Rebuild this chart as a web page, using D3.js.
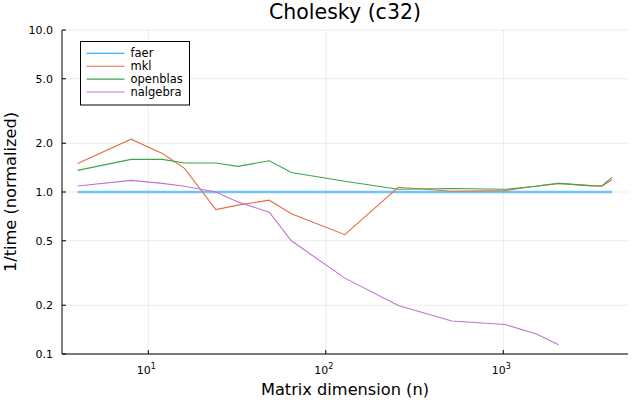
<!DOCTYPE html>
<html><head><meta charset="utf-8">
<script src="https://cdn.jsdelivr.net/npm/d3@7"></script>
<style>
body{margin:0;background:#fff;}
text{font-family:"DejaVu Sans",sans-serif;fill:#000;}
</style></head>
<body><svg id="c" width="640" height="400"></svg>
<script>
const sizes = [4, 8, 12, 16, 24, 32, 48, 64, 128, 256, 512, 1024, 1536, 2048, 2560, 3072, 3584, 4096];
const faer = [1, 1, 1, 1, 1, 1, 1, 1, 1, 1, 1, 1, 1, 1, 1, 1, 1, 1];
const mkl = [1.50, 2.12, 1.73, 1.40, 0.778, 0.83, 0.89, 0.735, 0.545, 1.07, 1.01, 1.02, 1.09, 1.13, 1.11, 1.095, 1.085, 1.19];
const openblas = [1.36, 1.59, 1.59, 1.51, 1.51, 1.44, 1.56, 1.32, 1.165, 1.04, 1.05, 1.04, 1.085, 1.13, 1.11, 1.095, 1.09, 1.23];
const nalgebra = [1.09, 1.18, 1.13, 1.085, 1.0, 0.867, 0.75, 0.50, 0.294, 0.199, 0.16, 0.152, 0.133, 0.114, null, null, null, null];
const seriesNames = ["faer", "mkl", "openblas", "nalgebra"];
const seriesColors = ["#009afa", "#e26f46", "#3da44d", "#c271d2"];
const yTicks = [0.1, 0.2, 0.5, 1.0, 2.0, 5.0, 10.0];
const xTicks = [10, 100, 1000];

const svg = d3.select("#c");
const L = 62, R = 628, T = 30, B = 354;
const x = d3.scaleLog().domain([3.265, 5040]).range([L, R]);
const y = d3.scaleLog().domain([0.1, 10]).range([B, T]);

// grid
svg.append("g").selectAll("line").data(yTicks).join("line")
  .attr("x1", L).attr("x2", R).attr("y1", d => y(d)).attr("y2", d => y(d))
  .attr("stroke", "#000").attr("stroke-opacity", 0.08).attr("stroke-width", 1);
svg.append("g").selectAll("line").data(xTicks).join("line")
  .attr("y1", T).attr("y2", B).attr("x1", d => x(d)).attr("x2", d => x(d))
  .attr("stroke", "#000").attr("stroke-opacity", 0.08).attr("stroke-width", 1);

// series
const all = [faer, mkl, openblas, nalgebra];
const line = d3.line().defined(d => d[1] != null).x(d => x(d[0])).y(d => y(d[1]));
all.forEach((vals, i) => {
  const pts = sizes.map((s, j) => [s, vals[j]]);
  svg.append("path").datum(pts).attr("d", line).attr("fill", "none")
    .attr("stroke", seriesColors[i])
    .attr("stroke-width", i === 0 ? 2.5 : 1.1)
    .attr("stroke-opacity", i === 0 ? 0.55 : 1);
});

// axes spines
svg.append("line").attr("x1", L).attr("x2", L).attr("y1", T).attr("y2", B).attr("stroke", "#000").attr("stroke-width", 1);
svg.append("line").attr("x1", L).attr("x2", R).attr("y1", B).attr("y2", B).attr("stroke", "#000").attr("stroke-width", 1);

// y ticks
const yt = svg.append("g");
yt.selectAll("line").data(yTicks).join("line")
  .attr("x1", L).attr("x2", L + 4).attr("y1", d => y(d)).attr("y2", d => y(d)).attr("stroke", "#000");
yt.selectAll("text").data(yTicks).join("text")
  .attr("x", L - 9).attr("y", d => y(d)).attr("dy", "0.35em").attr("text-anchor", "end")
  .attr("font-size", 11).text(d => d.toFixed(1));

// x ticks
const xt = svg.append("g");
xt.selectAll("line").data(xTicks).join("line")
  .attr("x1", d => x(d)).attr("x2", d => x(d)).attr("y1", B).attr("y2", B - 4).attr("stroke", "#000");
xt.selectAll("text").data(xTicks).join("text")
  .attr("x", d => x(d) - 2).attr("y", 374).attr("text-anchor", "middle").attr("font-size", 11)
  .each(function(d) {
    const t = d3.select(this);
    t.append("tspan").text("10");
    t.append("tspan").attr("dy", -5).attr("font-size", 8).text(Math.round(Math.log10(d)));
  });

// titles
svg.append("text").attr("x", (L + R) / 2).attr("y", 18.5).attr("text-anchor", "middle").attr("font-size", 20.5).text("Cholesky (c32)");
svg.append("text").attr("x", (L + R) / 2).attr("y", 395).attr("text-anchor", "middle").attr("font-size", 16.2).text("Matrix dimension (n)");
svg.append("text").attr("transform", `translate(15.5,${(T + B) / 2}) rotate(-90)`).attr("text-anchor", "middle").attr("font-size", 16.2).text("1/time (normalized)");

// legend
const lg = svg.append("g");
lg.append("rect").attr("x", 80.5).attr("y", 41.5).attr("width", 109).attr("height", 63.5)
  .attr("fill", "#fff").attr("stroke", "#000").attr("stroke-width", 1);
seriesNames.forEach((n, i) => {
  const yy = 53.3 + i * 12.9;
  lg.append("line").attr("x1", 86.5).attr("x2", 124.5).attr("y1", yy).attr("y2", yy)
    .attr("stroke", seriesColors[i]).attr("stroke-width", 1.1);
  lg.append("text").attr("x", 130.5).attr("y", yy).attr("dy", "0.35em").attr("font-size", 11.5).text(n);
});
</script></body></html>
